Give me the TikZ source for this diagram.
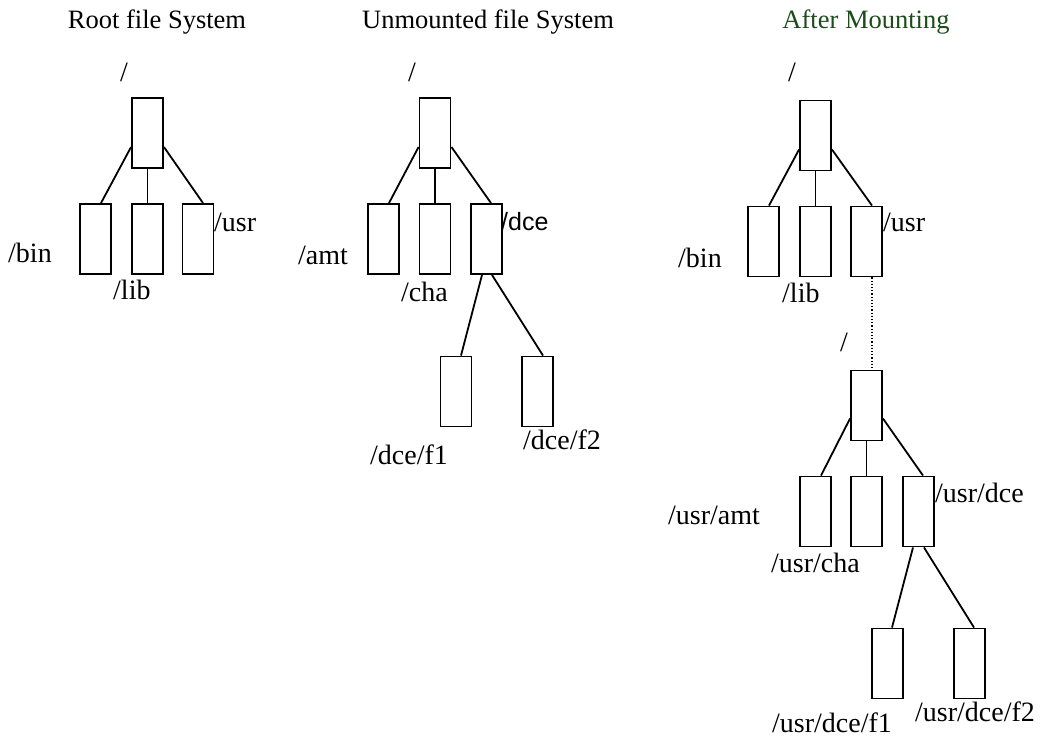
\documentclass[tikz,border=0pt]{standalone}
\usepackage{fontspec}
\setmainfont{Liberation Serif}
\newfontfamily\sansdce{Liberation Sans}
\definecolor{titlegreen}{RGB}{27,77,27}
\begin{document}
\begin{tikzpicture}[x=1pt,y=-1pt,
  fbox/.style={draw,line width=1.9pt,minimum width=31pt,minimum height=70pt,inner sep=0pt},
  lbl/.style={font=\fontsize{28}{32}\selectfont,inner sep=0pt,anchor=west},
  ttl/.style={font=\fontsize{26.5}{30}\selectfont,inner sep=0pt},
  link/.style={line width=1.8pt}]
\useasboundingbox (0,0) rectangle (1047,740);

% ---------- Tree 1: Root file System ----------
\node[ttl] (t1) at (157,22) {Root file System};
\node[fbox] (a) at (147.5,133) {};
\node[fbox] (abin) at (95.5,239) {};
\node[fbox] (alib) at (147.5,239) {};
\node[fbox] (ausr) at (198,239) {};
\node[lbl] (la) at (120,72) {/};
\node[lbl] (labin) at (8,253) {/bin};
\node[lbl] (lalib) at (113,290) {/lib};
\node[lbl] (lausr) at (214,222) {/usr};
\draw[link] ([yshift=-14pt]a.west) -- ([xshift=5.5pt]abin.north);
\draw[link] (a.south) -- (alib.north);
\draw[link] ([yshift=-14pt]a.east) -- ([xshift=5pt]ausr.north);

% ---------- Tree 2: Unmounted file System ----------
\node[ttl] (t2) at (488,22) {Unmounted file System};
\node[fbox] (b) at (435,133) {};
\node[fbox] (bamt) at (383.5,239) {};
\node[fbox] (bcha) at (435,239) {};
\node[fbox] (bdce) at (486.5,239) {};
\node[fbox] (bf1) at (456,391.5) {};
\node[fbox] (bf2) at (537.5,391.5) {};
\node[lbl] (lb) at (408,72) {/};
\node[lbl] (lbamt) at (298,255) {/amt};
\node[lbl] (lbcha) at (401,292) {/cha};
\node[lbl,font=\sansdce\fontsize{25}{30}\selectfont] (lbdce) at (501,222) {/dce};
\node[lbl] (lbf1) at (370,455) {/dce/f1};
\node[lbl] (lbf2) at (523,440) {/dce/f2};
\draw[link] ([yshift=-14pt]b.west) -- ([xshift=5.5pt]bamt.north);
\draw[link] (b.south) -- (bcha.north);
\draw[link] ([yshift=-14pt]b.east) -- ([xshift=4.5pt]bdce.north);
\draw[link] ([xshift=-4.5pt]bdce.south) -- ([xshift=5pt]bf1.north);
\draw[link] ([xshift=5.5pt]bdce.south) -- ([xshift=5.5pt]bf2.north);

% ---------- Tree 3: After Mounting ----------
\node[ttl,text=titlegreen] (t3) at (866,22) {After Mounting};
\node[fbox] (c) at (815.5,135.5) {};
\node[fbox] (cbin) at (763.5,241.5) {};
\node[fbox] (clib) at (815.5,241.5) {};
\node[fbox] (cusr) at (866.5,241.5) {};
\node[lbl] (lc) at (788,72) {/};
\node[lbl] (lcbin) at (678,258) {/bin};
\node[lbl] (lclib) at (782,293) {/lib};
\node[lbl] (lcusr) at (883,222) {/usr};
\draw[link] ([yshift=-14pt]c.west) -- ([xshift=5.5pt]cbin.north);
\draw[link] (c.south) -- (clib.north);
\draw[link] ([yshift=-14pt]c.east) -- ([xshift=5.5pt]cusr.north);

\node[fbox] (d) at (866.5,405.5) {};
\node[fbox] (damt) at (815.5,511.5) {};
\node[fbox] (dcha) at (866.5,511.5) {};
\node[fbox] (ddce) at (918.5,511.5) {};
\node[fbox] (df1) at (887.5,663.5) {};
\node[fbox] (df2) at (969.5,663.5) {};
\node[lbl] (ld) at (840,342) {/};
\node[lbl] (ldamt) at (668,515) {/usr/amt};
\node[lbl] (ldcha) at (771,563) {/usr/cha};
\node[lbl] (lddce) at (935,493) {/usr/dce};
\node[lbl] (ldf1) at (772,723) {/usr/dce/f1};
\node[lbl] (ldf2) at (915,712) {/usr/dce/f2};
\draw[line width=1.2pt,dotted] ([xshift=5.5pt]cusr.south) -- ([xshift=5.5pt]d.north);
\draw[link] ([yshift=-13pt]d.west) -- ([xshift=5.5pt]damt.north);
\draw[link] (d.south) -- (dcha.north);
\draw[link] ([yshift=-13pt]d.east) -- ([xshift=4.5pt]ddce.north);
\draw[link] ([xshift=-5.5pt]ddce.south) -- ([xshift=4.5pt]df1.north);
\draw[link] ([xshift=5.5pt]ddce.south) -- ([xshift=4.5pt]df2.north);
\end{tikzpicture}
\end{document}
